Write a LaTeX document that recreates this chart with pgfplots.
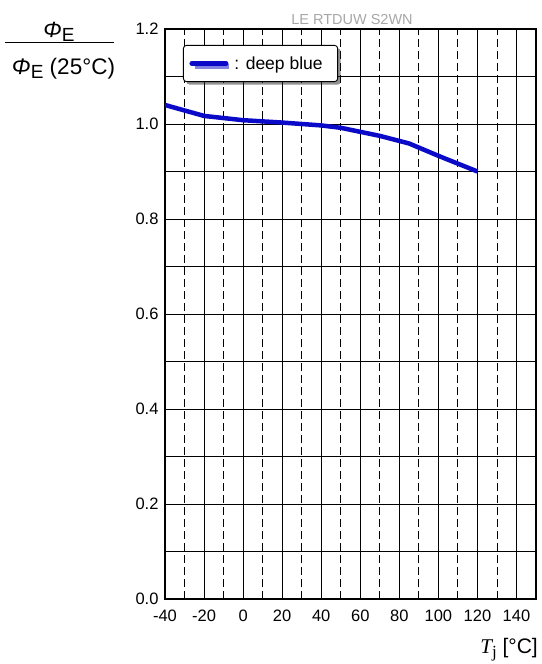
\documentclass[border=0pt]{standalone}
\usepackage{fontspec}
\setmainfont{Liberation Sans}
\newfontfamily\serifit{Liberation Serif}
\usepackage{pgfplots}
\pgfplotsset{compat=1.18}
\usetikzlibrary{shadows}
\definecolor{deepblue}{RGB}{10,10,200}
\begin{document}
\begin{tikzpicture}[x=1pt,y=1pt]
\useasboundingbox (0,0) rectangle (541,664);
\begin{axis}[
  at={(165pt,65pt)}, anchor=south west,
  scale only axis, width=371pt, height=570pt,
  xmin=-40, xmax=150, ymin=0, ymax=1.2,
  xtick={-40,-20,...,140},
  minor xtick={-30,-10,...,130},
  ytick={0,0.2,...,1.2},
  minor ytick={0.1,0.3,...,1.1},
  grid=both,
  major grid style={black, line width=0.9pt},
  minor x grid style={black, line width=0.9pt, dash pattern=on 8pt off 4pt},
  minor y grid style={black, line width=0.9pt},
  axis line style={black, line width=1.2pt},
  major tick length=0pt, minor tick length=0pt,
  tick label style={font=\fontsize{16.5}{20}\selectfont},
  /pgf/number format/assume math mode=true,
  yticklabel style={/pgf/number format/fixed, /pgf/number format/fixed zerofill, /pgf/number format/precision=1, xshift=-3pt},
  xticklabel style={yshift=-7pt},
  legend style={at={(rel axis cs:0.0485,0.972)}, anchor=north west, draw=black, line width=0.9pt, rounded corners=3pt, drop shadow={shadow xshift=3pt, shadow yshift=-3pt, fill=black!85}, fill=white, font=\fontsize{17.5}{20}\selectfont, inner xsep=6pt, inner ysep=9pt},
  legend cell align=left,
  legend image code/.code={\draw[deepblue, line width=5pt, line cap=round] (0pt,0pt) -- (34pt,0pt);},
  clip=true,
]
\addplot[deepblue, line width=4.5pt, line join=round] coordinates {
(-40,1.040) (-20,1.017) (0,1.008) (20,1.003) (40,0.997) (50,0.992) (70,0.975) (85,0.959) (100,0.933) (120,0.900)
};
\addlegendentry{\kern4pt: deep blue\kern7pt}
\end{axis}
\node[text=black!35, font=\fontsize{14.5}{16}\selectfont] at (352,644) {LE RTDUW S2WN};
\node[anchor=base, font=\fontsize{22}{25}\selectfont] at (59,626) {{\itshape Φ}\raisebox{-0.3ex}{\fontsize{19}{21}\selectfont E}};
\draw[line width=1pt] (5,621) -- (114,621);
\node[anchor=base, font=\fontsize{22.5}{25}\selectfont, inner xsep=0pt] at (63.5,589) {{\itshape Φ}\raisebox{-0.3ex}{\fontsize{19}{21}\selectfont E} (25°C)};
\node[anchor=base east, font=\fontsize{21}{24}\selectfont, inner xsep=0pt] at (538,10) {{\serifit\itshape T}\raisebox{-0.35ex}{\serifit\fontsize{17}{20}\selectfont j} [°C]};
\end{tikzpicture}
\end{document}
